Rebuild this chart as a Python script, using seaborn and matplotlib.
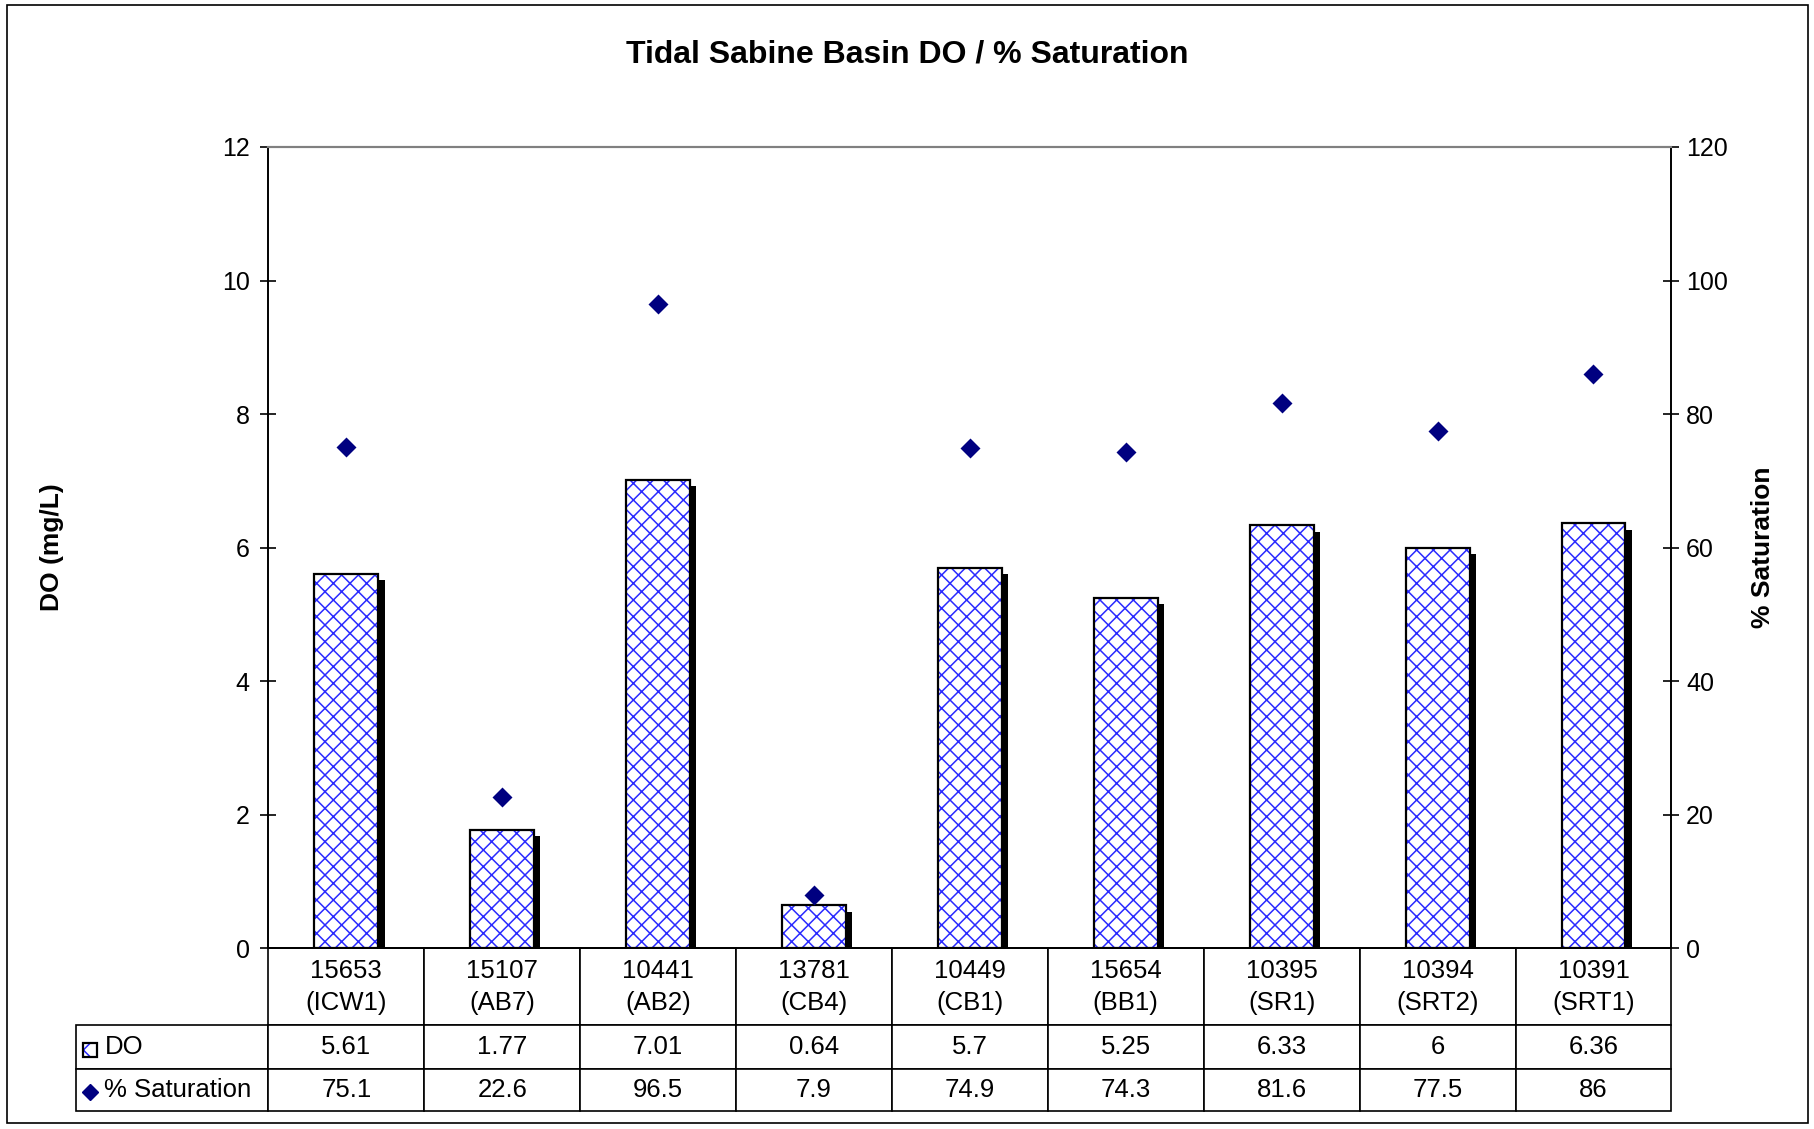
import matplotlib
matplotlib.use('Agg')
import matplotlib.pyplot as plt
import matplotlib.patheffects as pe
from matplotlib.patches import Rectangle
from matplotlib.lines import Line2D
from matplotlib.colors import to_rgba
import seaborn as sns
import pandas as pd

# station labels and measured values
stations = ['15653\n(ICW1)', '15107\n(AB7)', '10441\n(AB2)', '13781\n(CB4)', '10449\n(CB1)',
            '15654\n(BB1)', '10395\n(SR1)', '10394\n(SRT2)', '10391\n(SRT1)']
do_values = [5.61, 1.77, 7.01, 0.64, 5.7, 5.25, 6.33, 6, 6.36]
sat_values = [75.1, 22.6, 96.5, 7.9, 74.9, 74.3, 81.6, 77.5, 86]
row_names = ['DO', '% Saturation']

df = pd.DataFrame({'Station': stations, 'DO': do_values, 'Saturation': sat_values})

sns.set_style('white', rc={'text.color': 'black', 'axes.labelcolor': 'black',
                           'xtick.color': 'black', 'ytick.color': 'black'})
plt.rcParams['font.family'] = ['Liberation Sans', 'DejaVu Sans']
plt.rcParams['hatch.linewidth'] = 1.1

HATCH_BLUE = '#2a2aff'
NAVY = '#000080'
TICK_FS = 18
TABLE_FS = 18.5
LABEL_FS = 19


def set_hatch_colour(patch, colour):
    if hasattr(patch, 'set_hatchcolor'):
        patch.set_hatchcolor(colour)
    else:
        patch._hatch_color = to_rgba(colour)


fig = plt.figure(figsize=(18.15, 11.29), dpi=100)
ax = fig.add_axes([0.1479, 0.1603, 0.7730, 0.7095])

# bars for DO
sns.barplot(data=df, x='Station', y='DO', ax=ax, color='white', width=0.41,
            edgecolor='black', linewidth=1.6, saturation=1)
for bar in ax.patches:
    bar.set_hatch('xx')
    set_hatch_colour(bar, HATCH_BLUE)
    bar.set_path_effects([pe.SimplePatchShadow(offset=(4.5, -4.5), shadow_rgbFace='black',
                                               alpha=1.0, hatch=None),
                          pe.Normal()])

# % saturation on secondary axis
ax2 = ax.twinx()
sns.pointplot(data=df, x='Station', y='Saturation', ax=ax2, color=NAVY, marker='D',
              linestyle='none', markersize=8, errorbar=None)

ax.set_ylim(0, 12)
ax.set_yticks(range(0, 13, 2))
ax2.set_ylim(0, 120)
ax2.set_yticks(range(0, 121, 20))
ax.set_xlim(-0.5, len(stations) - 0.5)

ax.set_xlabel('')
ax2.set_xlabel('')
ax.tick_params(axis='x', length=0, labelbottom=False)
ax2.tick_params(axis='x', length=0, labelbottom=False)
ax.tick_params(axis='y', left=True, direction='inout', length=11, width=1.2,
               color='black', labelcolor='black', labelsize=TICK_FS, pad=8)
ax2.tick_params(axis='y', right=True, direction='inout', length=11, width=1.2,
                color='black', labelcolor='black', labelsize=TICK_FS, pad=5)

for a in (ax, ax2):
    for side in ('left', 'right', 'bottom'):
        a.spines[side].set_color('black')
        a.spines[side].set_linewidth(1.2)
    a.spines['top'].set_color('#808080')
    a.spines['top'].set_linewidth(1.5)

ax.set_ylabel('DO (mg/L)', fontsize=LABEL_FS, fontweight='bold', color='black')
ax.yaxis.set_label_coords(-0.146, 0.5)
ax2.set_ylabel('% Saturation', fontsize=LABEL_FS, fontweight='bold', color='black')
ax2.yaxis.set_label_coords(1.0567, 0.5)

fig.suptitle('Tidal Sabine Basin DO / % Saturation', x=0.5, y=0.952, va='center',
             fontsize=23, fontweight='bold', color='black')

# data table under the plot (first column holds the series names)
do_text = [f'{v:g}' for v in do_values]
sat_text = [f'{v:g}' for v in sat_values]
tbl = ax.table(cellText=[[row_names[0]] + do_text, [row_names[1]] + sat_text],
               colLabels=[''] + stations, cellLoc='center',
               bbox=[-0.1369, -0.2035, 1.1369, 0.2035])
tbl.auto_set_font_size(False)
tbl.set_fontsize(TABLE_FS)
row_h = {0: 77.5, 1: 44, 2: 41.7}
for (r, c), cell in tbl.get_celld().items():
    cell.set_width(192 if c == 0 else 155.9)
    cell.set_height(row_h[r])
    cell.set_linewidth(1.2)
    cell.set_edgecolor('black')
    cell.set_text_props(color='black')
    if r == 0:
        cell.set_text_props(linespacing=1.4)
    if c == 0:
        if r == 0:
            cell.visible_edges = ''
        else:
            cell.PAD = 0.146
            cell.set_text_props(ha='left')

# legend keys inside the row labels
key = Rectangle((0.0455, 0.0635), 0.0080, 0.0128, transform=fig.transFigure,
                facecolor='white', edgecolor='black', lw=1.6, hatch='x')
set_hatch_colour(key, HATCH_BLUE)
fig.add_artist(key)
fig.add_artist(Line2D([0.0496], [0.0332], marker='D', color=NAVY, markersize=8,
                      linestyle='none', transform=fig.transFigure))

# outer chart border
fig.add_artist(Rectangle((0.004, 0.005), 0.992, 0.991, transform=fig.transFigure,
                         fill=False, edgecolor='black', lw=1.2))

fig.savefig('out.png', dpi=100)
